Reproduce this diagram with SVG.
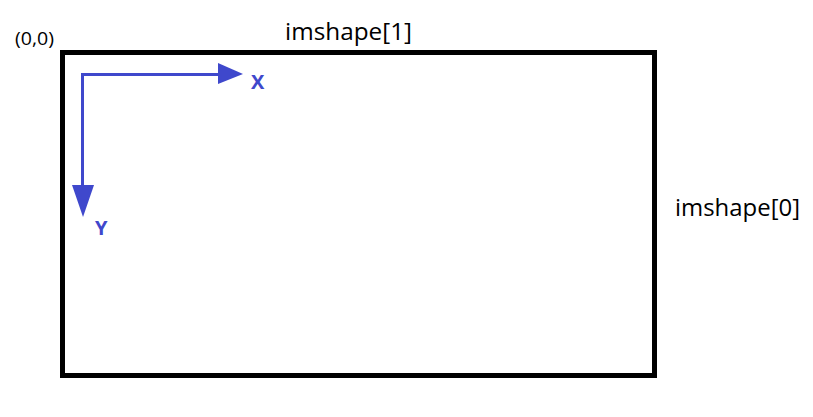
<svg xmlns="http://www.w3.org/2000/svg" width="813" height="417" viewBox="0 0 813 417">
<style>
.lbl{font-family:"Open Sans","Noto Sans","Liberation Sans",sans-serif;fill:#000}
.ax{stroke:#3f48cc;stroke-width:3;fill:none}
.axl{font-family:"Open Sans","Noto Sans","Liberation Sans",sans-serif;font-weight:bold;font-size:20px;fill:#3f48cc}
</style>
<rect width="813" height="417" fill="#fff"/>
<g id="image">
<rect x="62.5" y="52.5" width="592" height="323" fill="none" stroke="#000" stroke-width="5"/>
</g>
<g id="origin"><text class="lbl" x="15" y="45" font-size="18" textLength="39" lengthAdjust="spacingAndGlyphs">(0,0)</text></g>
<g id="width-label"><text class="lbl" x="285" y="40" font-size="23" textLength="127" lengthAdjust="spacingAndGlyphs">imshape[1]</text></g>
<g id="height-label"><text class="lbl" x="675" y="216" font-size="23" textLength="125" lengthAdjust="spacingAndGlyphs">imshape[0]</text></g>
<g id="connectors">
<path class="ax" d="M82.5 74.5 H219 M82.5 73 V186"/>
<polygon points="218,63 243,74 218,84" fill="#3f48cc"/>
<polygon points="72,185 94,185 83,217" fill="#3f48cc"/>
</g>
<g id="x-label"><text class="axl" x="251" y="89">X</text></g>
<g id="y-label"><text class="axl" x="95" y="235">Y</text></g>
</svg>
